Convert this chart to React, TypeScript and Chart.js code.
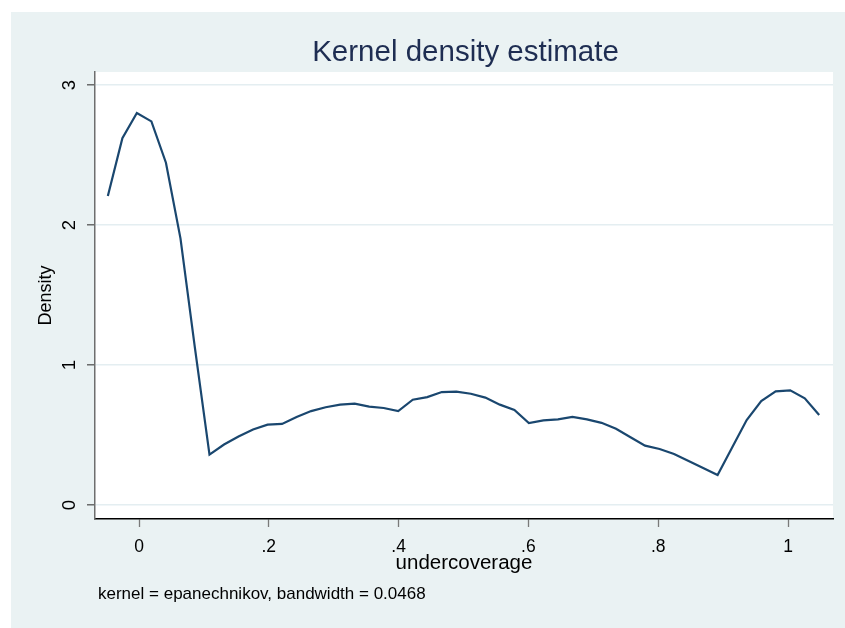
import React, { useEffect, useRef } from "react";
import { Chart, registerables } from "chart.js";

Chart.register(...registerables);

const xValues = [
  -0.048, -0.0256, -0.0033, 0.0191, 0.0415, 0.0639, 0.0862, 0.1086, 0.131, 0.1533,
  0.1757, 0.1981, 0.2204, 0.2428, 0.2652, 0.2876, 0.3099, 0.3323, 0.3547, 0.377,
  0.3994, 0.4218, 0.4441, 0.4665, 0.4889, 0.5113, 0.5336, 0.556, 0.5784, 0.6007,
  0.6231, 0.6455, 0.6678, 0.6902, 0.7126, 0.735, 0.7573, 0.7797, 0.8021, 0.8244,
  0.8468, 0.8692, 0.8915, 0.9139, 0.9363, 0.9587, 0.981, 1.0034, 1.0258, 1.048,
];

const densityValues = [
  2.207, 2.62, 2.8, 2.74, 2.445, 1.905, 1.12, 0.36, 0.432, 0.489,
  0.54, 0.574, 0.579, 0.629, 0.671, 0.698, 0.717, 0.724, 0.703, 0.693,
  0.671, 0.752, 0.771, 0.807, 0.81, 0.795, 0.767, 0.717, 0.679, 0.586,
  0.605, 0.612, 0.629, 0.612, 0.587, 0.545, 0.484, 0.424, 0.4, 0.364,
  0.314, 0.264, 0.214, 0.41, 0.607, 0.743, 0.812, 0.819, 0.762, 0.643,
];

const xTickValues = [0, 0.2, 0.4, 0.6, 0.8, 1];
const xTickLabels = ["0", ".2", ".4", ".6", ".8", "1"];
const yTickValues = [0, 1, 2, 3];
const yTickLabels = ["0", "1", "2", "3"];

const titleText = "Kernel density estimate";
const xTitle = "undercoverage";
const yTitle = "Density";
const noteText = "kernel = epanechnikov, bandwidth = 0.0468";

const FONT = "'Liberation Sans', Arial, sans-serif";
const BG = "#EAF2F3";

const W = 834;
const H = 616;

export default function App() {
  const ref = useRef<HTMLCanvasElement | null>(null);

  useEffect(() => {
    const canvas = ref.current;
    if (!canvas) return;

    const bgPlugin = {
      id: "stataBg",
      beforeDraw(chart: any) {
        const { ctx, chartArea } = chart;
        ctx.save();
        ctx.fillStyle = BG;
        ctx.fillRect(0, 0, chart.width, chart.height);
        ctx.fillStyle = "#FFFFFF";
        ctx.fillRect(
          chartArea.left,
          chartArea.top,
          chartArea.right - chartArea.left,
          chartArea.bottom - chartArea.top
        );
        ctx.restore();
      },
      afterDraw(chart: any) {
        const { ctx, chartArea } = chart;
        ctx.save();
        ctx.fillStyle = "#1E2D52";
        ctx.font = `29.5px ${FONT}`;
        ctx.textAlign = "center";
        ctx.textBaseline = "alphabetic";
        ctx.fillText(titleText, (chartArea.left + chartArea.right) / 2 + 1.5, chartArea.top - 11);
        ctx.fillStyle = "#000000";
        ctx.font = `17px ${FONT}`;
        ctx.textAlign = "left";
        ctx.fillText(noteText, chartArea.left + 3, chartArea.bottom + 80);
        ctx.restore();
      },
    };

    const chart = new Chart(canvas, {
      type: "line",
      data: {
        datasets: [
          {
            data: xValues.map((x, i) => ({ x, y: densityValues[i] })),
            borderColor: "#1A476F",
            borderWidth: 2.2,
            pointRadius: 0,
            tension: 0,
            fill: false,
          },
        ],
      },
      options: {
        animation: false,
        responsive: false,
        devicePixelRatio: 1,
        layout: { padding: { top: 60, right: 12, left: 0, bottom: 0 } },
        plugins: {
          legend: { display: false },
          tooltip: { enabled: false },
          title: { display: false },
        },
        scales: {
          x: {
            type: "linear",
            min: -0.0678,
            max: 1.0693,
            afterBuildTicks: (scale: any) => {
              scale.ticks = xTickValues.map((v) => ({ value: v }));
            },
            afterFit: (scale: any) => {
              scale.height = 109;
            },
            ticks: {
              autoSkip: false,
              maxRotation: 0,
              minRotation: 0,
              padding: 10,
              color: "#000000",
              font: { family: FONT, size: 17.5 },
              callback: (v: any) => {
                const idx = xTickValues.findIndex((t) => Math.abs(t - Number(v)) < 1e-9);
                return idx >= 0 ? xTickLabels[idx] : "";
              },
            },
            grid: {
              display: true,
              drawOnChartArea: false,
              drawTicks: true,
              tickLength: 8,
              tickColor: "#7A7A7A",
              tickWidth: 1.3,
            },
            border: { display: true, color: "#000000", width: 1.5 },
            title: {
              display: true,
              text: xTitle,
              color: "#000000",
              font: { family: FONT, size: 20.5 },
              padding: { top: 0, bottom: 52 },
            },
          },
          y: {
            type: "linear",
            min: -0.1,
            max: 3.093,
            afterBuildTicks: (scale: any) => {
              scale.ticks = yTickValues.map((v) => ({ value: v }));
            },
            afterFit: (scale: any) => {
              scale.width = 84;
            },
            ticks: {
              autoSkip: false,
              minRotation: 90,
              maxRotation: 90,
              crossAlign: "center",
              padding: 12,
              color: "#000000",
              font: { family: FONT, size: 18.5 },
              callback: (v: any) => {
                const idx = yTickValues.findIndex((t) => Math.abs(t - Number(v)) < 1e-9);
                return idx >= 0 ? yTickLabels[idx] : "";
              },
            },
            grid: {
              display: true,
              drawOnChartArea: true,
              drawTicks: true,
              tickLength: 8,
              color: "#E4EEF1",
              lineWidth: 1.6,
              tickColor: "#555555",
              tickWidth: 1.3,
            },
            border: { display: true, color: "#6E6E6E", width: 1.5 },
            title: {
              display: true,
              text: yTitle,
              color: "#000000",
              font: { family: FONT, size: 18 },
              padding: { top: 24, bottom: 0 },
            },
          },
        },
      },
      plugins: [bgPlugin],
    } as any);

    return () => {
      chart.destroy();
    };
  }, []);

  return (
    <div
      style={{
        position: "fixed",
        left: 11,
        top: 12,
        width: W,
        height: H,
        background: BG,
      }}
    >
      <canvas ref={ref} width={W} height={H} style={{ width: W, height: H, display: "block" }} />
    </div>
  );
}
